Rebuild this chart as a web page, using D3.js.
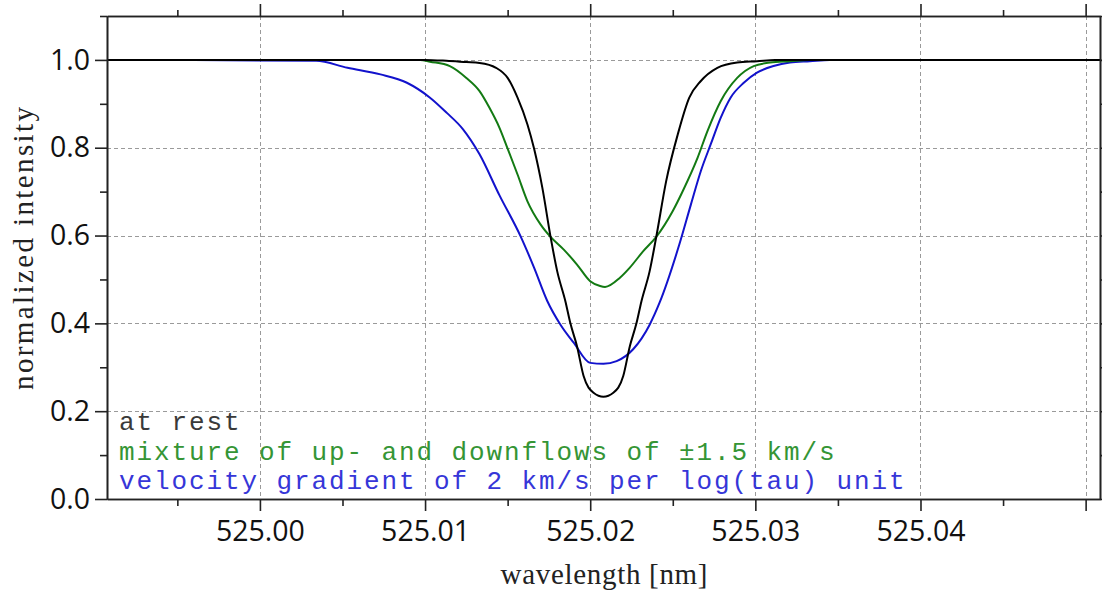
<!DOCTYPE html>
<html>
<head>
<meta charset="utf-8">
<script src="https://cdn.jsdelivr.net/npm/d3@7"></script>
<style>
  html, body { margin: 0; padding: 0; background: #fff; }
  svg { display: block; }
</style>
</head>
<body>
<svg id="chart" width="1102" height="596"></svg>
<script>
// ---------- data ----------
const xDomain = [524.99074, 525.05087];
const yDomain = [0, 1.1];

const xMajorTicks = [525.00, 525.01, 525.02, 525.03, 525.04, 525.05];
const xTickLabels = ["525.00", "525.01", "525.02", "525.03", "525.04", ""];
const xMinorTicks = [524.995, 525.005, 525.015, 525.025, 525.035, 525.045];
const yMajorTicks = [0.0, 0.2, 0.4, 0.6, 0.8, 1.0];
const yTickLabels = ["0.0", "0.2", "0.4", "0.6", "0.8", "1.0"];
const yMinorTicks = [0.1, 0.3, 0.5, 0.7, 0.9, 1.1];

const xTitle = "wavelength [nm]";
const yTitle = "normalized intensity";

const seriesNames = [
  "at rest",
  "mixture of up- and downflows of \u00b11.5 km/s",
  "velocity gradient of 2 km/s per log(tau) unit"
];

// at rest
const restWavelength = [524.9907, 525.0100, 525.0113, 525.0125, 525.0133, 525.0143, 525.0150, 525.0156,
  525.0162, 525.0166, 525.0171, 525.0176, 525.0180, 525.0185, 525.0188, 525.0192, 525.0196, 525.0202,
  525.0208, 525.0214, 525.0220, 525.0224, 525.0228, 525.0231, 525.0236, 525.0240, 525.0246, 525.0253,
  525.0260, 525.0267, 525.0277, 525.0289, 525.0301, 525.0312, 525.0509];
const restIntensity = [1.000, 1.000, 0.998, 0.995, 0.993, 0.982, 0.959, 0.914,
  0.853, 0.798, 0.709, 0.597, 0.519, 0.450, 0.400, 0.348, 0.280, 0.242,
  0.233, 0.242, 0.280, 0.348, 0.400, 0.450, 0.519, 0.597, 0.724, 0.830,
  0.914, 0.952, 0.982, 0.994, 0.997, 1.000, 1.000];

// mixture of up- and downflows
const mixWavelength = [524.9907, 525.0097, 525.0103, 525.0115, 525.0125, 525.0133, 525.0139, 525.0145,
  525.0150, 525.0156, 525.0162, 525.0170, 525.0176, 525.0184, 525.0192, 525.0200, 525.0206, 525.0209,
  525.0218, 525.0224, 525.0232, 525.0240, 525.0250, 525.0256, 525.0265, 525.0271, 525.0279, 525.0289,
  525.0299, 525.0309, 525.0321, 525.0333, 525.0509];
const mixIntensity = [1.000, 1.000, 0.996, 0.986, 0.959, 0.929, 0.891, 0.846,
  0.798, 0.739, 0.678, 0.625, 0.597, 0.568, 0.534, 0.496, 0.485, 0.483,
  0.504, 0.527, 0.564, 0.597, 0.656, 0.701, 0.777, 0.838, 0.906, 0.959,
  0.986, 0.994, 0.997, 1.000, 1.000];

// velocity gradient
const gradWavelength = [524.9907, 525.0034, 525.0053, 525.0073, 525.0089, 525.0103, 525.0113, 525.0123,
  525.0133, 525.0145, 525.0158, 525.0166, 525.0174, 525.0182, 525.0190, 525.0200, 525.0208,
  525.0216, 525.0226, 525.0236, 525.0242, 525.0254, 525.0261, 525.0267, 525.0273, 525.0279, 525.0285,
  525.0293, 525.0301, 525.0311, 525.0321, 525.0333, 525.0345, 525.0509];
const gradIntensity = [1.000, 0.998, 0.982, 0.967, 0.948, 0.914, 0.880, 0.842,
  0.785, 0.692, 0.597, 0.527, 0.451, 0.397, 0.356, 0.310, 0.308,
  0.314, 0.341, 0.397, 0.447, 0.580, 0.671, 0.747, 0.808, 0.868, 0.914,
  0.948, 0.971, 0.986, 0.994, 0.997, 1.000, 1.000];

const lineColors = ["#000000", "#137a13", "#1212cc"];
const textColors = ["#3a3a3a", "#359535", "#3636d8"];

// ---------- layout ----------
const svg = d3.select("#chart");
const pLeft = 107, pRight = 1100, pTop = 16, pBottom = 499;

const x = d3.scaleLinear().domain(xDomain).range([pLeft, pRight]);
const y = d3.scaleLinear().domain(yDomain).range([pBottom, pTop]);

const tickFont = "'Open Sans', 'Noto Sans', sans-serif";
const axisColor = "#222";

// clip
svg.append("defs").append("clipPath").attr("id", "plotclip")
  .append("rect").attr("x", pLeft).attr("y", pTop).attr("width", pRight - pLeft).attr("height", pBottom - pTop);

// grid
const grid = svg.append("g").attr("stroke", "#9a9a9a").attr("stroke-width", 1).attr("stroke-dasharray", "4,3");
grid.selectAll("line.v").data(xMajorTicks).join("line").attr("class", "v")
  .attr("x1", d => Math.round(x(d)) + 0.5).attr("x2", d => Math.round(x(d)) + 0.5)
  .attr("y1", pTop).attr("y2", pBottom);
grid.selectAll("line.h").data(yMajorTicks.filter(d => d > 0)).join("line").attr("class", "h")
  .attr("y1", d => Math.round(y(d)) + 0.5).attr("y2", d => Math.round(y(d)) + 0.5)
  .attr("x1", pLeft).attr("x2", pRight);

// legend text (behind curves)
const legend = svg.append("g").attr("font-family", "'Liberation Mono', 'Courier New', monospace")
  .attr("font-size", 26).attr("letter-spacing", "1.9px");
seriesNames.forEach((name, i) => {
  legend.append("text").attr("x", 119).attr("y", 430 + i * 29.5)
    .attr("fill", textColors[i]).text(name);
});

// curves
const line = d3.line().x(d => x(d[0])).y(d => y(d[1])).curve(d3.curveMonotoneX);
const series = [
  { wl: gradWavelength, v: gradIntensity, c: lineColors[2] },
  { wl: mixWavelength, v: mixIntensity, c: lineColors[1] },
  { wl: restWavelength, v: restIntensity, c: lineColors[0] }
];
const curves = svg.append("g").attr("clip-path", "url(#plotclip)");
series.forEach(s => {
  curves.append("path")
    .datum(s.wl.map((w, i) => [w, s.v[i]]))
    .attr("fill", "none").attr("stroke", s.c).attr("stroke-width", 2)
    .attr("stroke-linejoin", "round").attr("d", line);
});

// axes
function styleAxis(g) {
  g.select(".domain").attr("stroke", axisColor).attr("stroke-width", 1.6);
  g.selectAll(".tick line").attr("stroke", axisColor).attr("stroke-width", 1.6);
  g.selectAll("text").attr("font-family", tickFont).attr("font-size", 28.5).attr("fill", "#111");
}

const xBottom = d3.axisBottom(x).tickValues(xMajorTicks)
  .tickFormat((d, i) => xTickLabels[i]).tickSize(12).tickPadding(10).tickSizeOuter(0);
svg.append("g").attr("transform", `translate(0,${pBottom})`).call(xBottom).call(styleAxis);
svg.append("g").attr("transform", `translate(0,${pBottom})`)
  .call(d3.axisBottom(x).tickValues(xMinorTicks).tickFormat("").tickSize(7).tickSizeOuter(0)).call(styleAxis);

const xTopAxis = d3.axisTop(x).tickValues(xMajorTicks).tickFormat("").tickSize(12).tickSizeOuter(0);
svg.append("g").attr("transform", `translate(0,${pTop})`).call(xTopAxis).call(styleAxis);
svg.append("g").attr("transform", `translate(0,${pTop})`)
  .call(d3.axisTop(x).tickValues(xMinorTicks).tickFormat("").tickSize(6).tickSizeOuter(0)).call(styleAxis);

const yLeft = d3.axisLeft(y).tickValues(yMajorTicks)
  .tickFormat((d, i) => yTickLabels[i]).tickSize(12).tickPadding(5).tickSizeOuter(0);
svg.append("g").attr("transform", `translate(${pLeft},0)`).call(yLeft).call(styleAxis);
svg.append("g").attr("transform", `translate(${pLeft},0)`)
  .call(d3.axisLeft(y).tickValues(yMinorTicks).tickFormat("").tickSize(7).tickSizeOuter(0)).call(styleAxis);

svg.append("g").attr("transform", `translate(${pRight},0)`)
  .call(d3.axisRight(y).tickValues(yMajorTicks).tickFormat("").tickSize(12).tickSizeOuter(0)).call(styleAxis);
svg.append("g").attr("transform", `translate(${pRight},0)`)
  .call(d3.axisRight(y).tickValues(yMinorTicks).tickFormat("").tickSize(7).tickSizeOuter(0)).call(styleAxis);

// titles
svg.append("text").attr("x", 604).attr("y", 584)
  .attr("text-anchor", "middle").attr("font-family", "'Liberation Serif', 'Times New Roman', serif")
  .attr("font-size", 29).attr("fill", "#222")
  .attr("textLength", 207).attr("lengthAdjust", "spacing").text(xTitle);
svg.append("text").attr("transform", `translate(33,248.5) rotate(-90)`)
  .attr("text-anchor", "middle").attr("font-family", "'Liberation Serif', 'Times New Roman', serif")
  .attr("font-size", 29).attr("fill", "#222")
  .attr("textLength", 283).attr("lengthAdjust", "spacing").text(yTitle);
</script>
</body>
</html>
